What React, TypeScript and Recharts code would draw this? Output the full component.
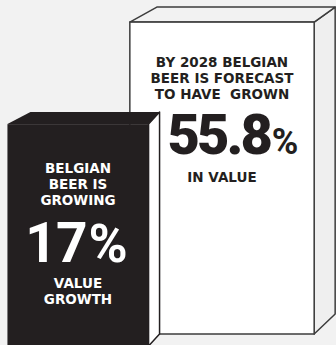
import React from 'react';
import { BarChart, Bar, XAxis, YAxis } from 'recharts';

const categories = ['Today', '2028'];
const growthValues = [17, 55.8];
const headlineLines = [
  ['BELGIAN', 'BEER IS', 'GROWING'],
  ['BY 2028 BELGIAN', 'BEER IS FORECAST', 'TO HAVE  GROWN'],
];
const captionLines = [['VALUE', 'GROWTH'], ['IN VALUE']];

// looks of each box, same order as categories
const boxStyles = [
  { front: '#231f20', top: '#231f20', side: '#ffffff', stroke: '#231f20', text: '#ffffff', widthScale: 0.98, bottomInset: -1, dxLeft: 23, dxRight: 11, dy: 12, dyBottom: 12, textShift: 4, numX: -1.5, numY: 138, numSize: 55, pctSize: 53, numWeight: 700, pctWeight: 700, numSpacing: -1 },
  { front: '#ffffff', top: '#f2f2f2', side: '#efefef', stroke: '#3d3d3d', text: '#231f20', widthScale: 1.28, bottomInset: 11, dxLeft: 27, dxRight: 21, dy: 15, dyBottom: 20, textShift: 0, numX: 11, numY: 132, numSize: 56, pctSize: 36, numWeight: 900, pctWeight: 700, numSpacing: -3 },
];

const LABEL_FONT = '"DejaVu Sans", sans-serif';
const NUMBER_FONT = 'Roboto, "Open Sans", sans-serif';

const Box = (props: any) => {
  const { x, y, width, payload, background } = props;
  const s = boxStyles[payload.idx];
  const cx = x + width / 2;
  const w = width * s.widthScale;
  const x0 = cx - w / 2;
  const x1 = cx + w / 2;
  const chartBottom = background ? background.y + background.height : 345;
  const yb = chartBottom - s.bottomInset;

  const topFace = `${x0},${y} ${x0 + s.dxLeft},${y - s.dy} ${x1 + s.dxRight},${y - s.dy} ${x1},${y}`;
  const sideFace = `${x1},${y} ${x1 + s.dxRight},${y - s.dy} ${x1 + s.dxRight},${yb - s.dyBottom} ${x1},${yb}`;
  const isDark = payload.idx === 0;
  const ty = y + s.textShift;

  return (
    <g>
      <polygon points={sideFace} fill={s.side} stroke={s.stroke} strokeWidth={1.5} strokeLinejoin="round" />
      <polygon points={topFace} fill={s.top} stroke={isDark ? 'none' : s.stroke} strokeWidth={1.5} strokeLinejoin="round" />
      <rect x={x0} y={y} width={w} height={yb - y} fill={s.front} stroke={isDark ? 'none' : s.stroke} strokeWidth={1.5} />
      {payload.headline.map((line: string, i: number) => (
        <text key={line} x={cx} y={ty + 44.5 + i * 16} textAnchor="middle" fill={s.text}
          fontFamily={LABEL_FONT} fontWeight={700} fontSize={13.5} style={{ whiteSpace: 'pre' }}>
          {line}
        </text>
      ))}
      <text x={cx + s.numX} y={y + s.numY} textAnchor="middle" fill={s.text} fontFamily={NUMBER_FONT}>
        <tspan fontSize={s.numSize} fontWeight={s.numWeight} letterSpacing={s.numSpacing}>{payload.value}</tspan>
        <tspan fontSize={s.pctSize} fontWeight={s.pctWeight} dx={2}>%</tspan>
      </text>
      {payload.caption.map((line: string, i: number) => (
        <text key={line} x={cx} y={ty + 160 + i * 16} textAnchor="middle" fill={s.text}
          fontFamily={LABEL_FONT} fontWeight={700} fontSize={13.5}>
          {line}
        </text>
      ))}
    </g>
  );
};

export default function App() {
  // front box drawn last, so the table runs back to front on a reversed axis
  const data = categories
    .map((name, idx) => ({
      name,
      idx,
      value: growthValues[idx],
      headline: headlineLines[idx],
      caption: captionLines[idx],
    }))
    .reverse();

  return (
    <div style={{ position: 'absolute', left: 0, top: 0, width: 336, height: 345, background: '#f2f2f2', overflow: 'hidden' }}>
      <BarChart width={336} height={345} data={data} margin={{ top: 0, right: 42, bottom: 0, left: 6 }} barCategoryGap={0}>
        <XAxis dataKey="name" reversed hide />
        <YAxis type="number" domain={[-67, 64.2]} hide />
        <Bar dataKey="value" shape={<Box />} isAnimationActive={false} />
      </BarChart>
    </div>
  );
}
